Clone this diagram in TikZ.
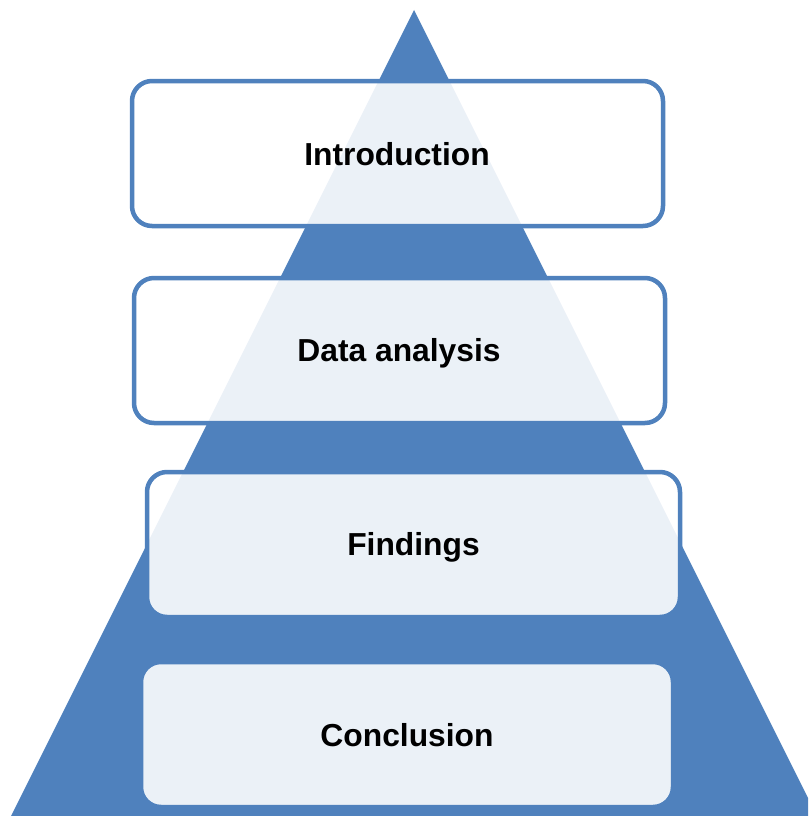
\documentclass[tikz,border=0pt]{standalone}
\usepackage{fontspec}
\setmainfont{Liberation Sans}
\definecolor{tblue}{RGB}{79,129,189}
\begin{document}
\begin{tikzpicture}[x=1pt,y=-1pt,
  stage/.style={draw=tblue, line width=4.5pt, rounded corners=20pt, fill=white, fill opacity=0.89},
  lbl/.style={font=\fontsize{31.8}{38}\selectfont\bfseries, text=black}]
\useasboundingbox (0,0) rectangle (808,816);
\clip (0,0) rectangle (808,816);
\fill[tblue] (414,10) -- (11,816) -- (817,816) -- cycle;
\draw[stage] (132,81) rectangle (663,226);
\draw[stage] (134,278) rectangle (665,423);
\draw[stage] (147,472) rectangle (680,617);
\draw[stage] (141,662) rectangle (673,807);
\node[lbl] (intro) at (397,154) {Introduction};
\node[lbl] (data) at (399,353) {Data analysis};
\node[lbl] (find) at (413.5,547) {Findings};
\node[lbl] (concl) at (407,735) {Conclusion};
\end{tikzpicture}
\end{document}
